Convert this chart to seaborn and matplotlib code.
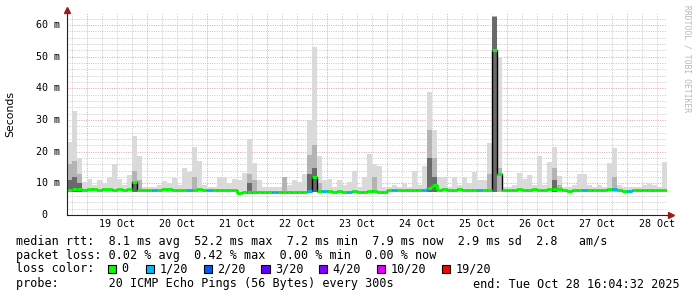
import matplotlib
matplotlib.use("Agg")
import numpy as np
import pandas as pd
import seaborn as sns
import matplotlib.pyplot as plt
import matplotlib.transforms as mtransforms
from matplotlib.patches import Rectangle

# ---------------- data ----------------
start = pd.Timestamp("2025-10-18 16:04:32")
end = pd.Timestamp("2025-10-28 16:04:32")
bin_hours = 2

median_ms = [
    8.0, 8.1, 8.1, 8.0, 8.1, 8.1, 8.0, 8.1, 8.1, 8.0, 8.1, 8.0, 8.1,
    10.3,
    7.9, 8.0, 8.0, 7.9, 8.0, 8.1, 8.1, 8.0, 8.0, 8.0, 7.9, 8.0, 8.1, 8.0, 7.9, 8.0, 8.0, 7.9, 8.0, 7.9,
    7.1,
    7.3, 7.3, 7.2, 7.3, 7.3, 7.3, 7.2, 7.3, 7.3, 7.2, 7.3, 7.3, 7.3,
    7.6, 11.9,
    7.6, 7.5, 7.5, 7.4, 7.5, 7.4, 7.4, 7.5, 7.4,
    7.4, 7.5, 7.5, 7.4, 7.2,
    7.8, 7.9, 8.0, 7.9, 8.0, 8.0, 7.9, 8.0,
    8.6, 9.5,
    8.0, 8.1, 8.0, 8.0, 8.1, 8.0, 8.0, 8.0, 7.9, 8.0, 8.0,
    52.2, 13.0,
    8.0, 8.0, 8.0, 8.1, 8.0, 8.0, 8.1, 8.0, 8.0, 8.1,
    8.3, 8.3, 8.0, 7.6,
    7.9, 8.0, 7.9, 8.0, 8.0, 8.0, 8.0, 8.2, 8.3, 8.0,
    7.7, 7.7, 7.8, 7.8, 7.8, 7.8, 7.8, 7.8, 7.9,
]

smoke_max_ms = [
    23, 33, 18, 10.5, 11.5, 9.5, 11, 10, 12, 16,
    11.5, 9.5, 12.7, 25, 18.5, 9, 9, 9, 9.5, 10.6,
    10, 11.6, 9.5, 15, 13.5, 21.5, 17, 9.5, 9, 9,
    12, 12, 10, 11.3, 11, 13.4, 24, 16.4, 11, 9,
    9, 9, 9, 12, 9.5, 11, 10.5, 13, 30, 53,
    18.5, 11, 11.3, 9, 11, 9.5, 10.5, 14, 9, 12,
    19.3, 16, 15.5, 9, 9, 9.5, 9, 10, 9, 14,
    9.5, 15.5, 39, 27, 12, 12, 9, 12, 9.5, 12,
    10, 13.5, 11, 11, 22.7, 63, 50, 9, 9, 9.5,
    13.2, 11.4, 12.6, 9.5, 18.6, 9.5, 16.8, 21.6, 12.3, 9,
    9, 9.5, 12.8, 12.8, 9.5, 9, 9.5, 9, 16.5, 21.2,
    9.5, 9, 9, 9, 9, 9.5, 10, 9.5, 9, 16.8,
]

# darker smoke levels (0 = none)
smoke_mid_ms = [0.0] * 120
for i, v in {0: 16, 1: 17, 2: 13, 13: 14, 14: 11, 25: 12, 36: 13, 37: 11, 43: 12,
             48: 19, 49: 22, 50: 10, 61: 12, 72: 27, 73: 18, 84: 13, 85: 63,
             86: 15, 97: 15, 98: 9.5, 109: 12}.items():
    smoke_mid_ms[i] = v
smoke_dark_ms = [0.0] * 120
for i, v in {0: 11, 1: 12, 2: 10, 13: 10.5, 36: 10, 48: 13, 49: 15, 72: 18,
             73: 12, 85: 62.5, 97: 11}.items():
    smoke_dark_ms[i] = v

loss_bins = [17, 24, 28, 41, 48, 51, 56, 65, 71, 82, 103, 109, 112]  # 1/20 loss

loss_labels = ["0", "1/20", "2/20", "3/20", "4/20", "10/20", "19/20"]
loss_colors = ["#00ff00", "#00b8ff", "#0059ff", "#5e00ff", "#7e00ff", "#dd00ff", "#ff0000"]

day_labels = ["19 Oct", "20 Oct", "21 Oct", "22 Oct", "23 Oct",
              "24 Oct", "25 Oct", "26 Oct", "27 Oct", "28 Oct"]
y_ticks = [0, 10, 20, 30, 40, 50, 60]

stats_rows = [
    "median rtt:  8.1 ms avg  52.2 ms max  7.2 ms min  7.9 ms now  2.9 ms sd  2.8   am/s",
    "packet loss: 0.02 % avg  0.42 % max  0.00 % min  0.00 % now",
]
probe_text = "probe:       20 ICMP Echo Pings (56 Bytes) every 300s"
end_text = "end: Tue Oct 28 16:04:32 2025"

# ---------------- figure ----------------
W, H = 697, 297
sns.set_theme(style="white")
plt.rcParams["font.family"] = ["DejaVu Sans Mono", "DejaVu Sans"]

fig = plt.figure(figsize=(W / 100, H / 100), dpi=100, facecolor="white")
ymax = 63.9
ax_left, ax_right, ax_bottom_px = 67, 667, 215
ax_top_px = ax_bottom_px - ymax * (190 / 60)
ax = fig.add_axes([ax_left / W, 1 - ax_bottom_px / H, (ax_right - ax_left) / W,
                   (ax_bottom_px - ax_top_px) / H])
ax.set_facecolor("white")

n = len(median_ms)
times = pd.date_range(start, periods=n, freq=f"{bin_hours}h")
df = pd.DataFrame({"t": times, "median": np.array(median_ms) / 1000.0,
                   "max": np.array(smoke_max_ms) / 1000.0,
                   "mid": np.array(smoke_mid_ms) / 1000.0,
                   "dark": np.array(smoke_dark_ms) / 1000.0})
df["loss"] = 0
df.loc[loss_bins, "loss"] = 1
width = pd.Timedelta(hours=bin_hours)

ax.set_xlim(start, end)
ax.set_ylim(0, ymax / 1000.0)

# grid
minor_t = pd.date_range("2025-10-18 18:00", end, freq="6h")
major_t = pd.date_range("2025-10-19 00:00", end, freq="D")
dash = (0, (1.0, 1.4))
for t in minor_t:
    if t.hour != 0:
        ax.axvline(t, color="#c8c8c8", lw=0.7, ls=dash, zorder=0.5)
for t in major_t:
    ax.axvline(t, color="#e2a4a4", lw=0.7, ls=dash, zorder=0.6)
for v in np.arange(2, 64, 2):
    if v % 10:
        ax.axhline(v / 1000.0, color="#c8c8c8", lw=0.7, ls=dash, zorder=0.5)
for v in y_ticks[1:]:
    ax.axhline(v / 1000.0, color="#e2a4a4", lw=0.7, ls=dash, zorder=0.6)

# smoke (from just below the fastest ping up to the slowest)
bottom = np.minimum(df["median"], 0.0079) - 0.0006
ax.bar(df["t"], df["max"] - bottom, bottom=bottom, width=width, align="edge",
       color="#dadada", linewidth=0, zorder=1)
m = df["mid"] > 0
ax.bar(df["t"][m], (df["mid"] - bottom)[m], bottom=bottom[m], width=width, align="edge",
       color="#b4b4b4", linewidth=0, zorder=1.1)
d = df["dark"] > 0
ax.bar(df["t"][d], (df["dark"] - bottom)[d], bottom=bottom[d], width=width, align="edge",
       color="#6a6a6a", linewidth=0, zorder=1.2)

# median: thin black step line (shows big jumps), then loss-coloured segments
sns.lineplot(x=df["t"], y=df["median"], drawstyle="steps-post", color="black",
             lw=1.0, ax=ax, zorder=2)
jump = (df["median"].diff().abs() < 0.002).values[1:]
prev_loss = df["loss"].values[:-1]
ax.vlines(df["t"].iloc[1:][jump], df["median"].iloc[:-1].values[jump],
          df["median"].iloc[1:].values[jump],
          colors=[loss_colors[k] for k in prev_loss[jump]], lw=2.1, zorder=3)
ax.hlines(df["median"], df["t"], df["t"] + width,
          colors=[loss_colors[k] for k in df["loss"]], lw=2.1, zorder=3.1)

ax.set_xticks([])
ax.set_yticks([])
ax.set_xlabel("")
ax.set_ylabel("")
for s in ["top", "right"]:
    ax.spines[s].set_visible(False)
for s in ["left", "bottom"]:
    ax.spines[s].set_color("#222222")
    ax.spines[s].set_linewidth(0.8)
    ax.spines[s].set_zorder(4)

# arrows
ax.plot([0], [1 + 2.5 / (ax_bottom_px - ax_top_px)], marker="^", color="#9b1b1b",
        markersize=4.5, transform=ax.transAxes, clip_on=False, zorder=5)
ax.plot([1 + 4.0 / 600], [0], marker=">", color="#9b1b1b", markersize=4.5,
        transform=ax.transAxes, clip_on=False, zorder=5)
ax.plot([1, 1 + 4.0 / 600], [0, 0], color="#222222", lw=0.8,
        transform=ax.transAxes, clip_on=False, zorder=4)

# tick labels
tfont = dict(fontsize=7.2, family="DejaVu Sans Mono", color="black")
blend_x = mtransforms.blended_transform_factory(ax.transData, fig.transFigure)
for lab, t in zip(day_labels, major_t):
    ax.text(t + pd.Timedelta(hours=12), 1 - 224 / H, lab, transform=blend_x,
            ha="center", va="center", **tfont)
blend_y = mtransforms.blended_transform_factory(fig.transFigure, ax.transData)
for v in y_ticks:
    if v:
        ax.text(59.5 / W, v / 1000.0, f"{v} m", transform=blend_y, ha="right",
                va="center", **tfont)
    else:
        ax.text(47.5 / W, 0, "0", transform=blend_y, ha="right", va="center", **tfont)

fig.text(10 / W, 1 - 114 / H, "Seconds", rotation=90, ha="center", va="center",
         fontsize=7.8, family="DejaVu Sans", color="black")
fig.text(687 / W, 1 - 5 / H, "RRDTOOL / TOBI OETIKER", rotation=270, ha="center",
         va="top", fontsize=5.8, family="DejaVu Sans Mono", color="#b8b8b8")

# legend / stats
lfont = dict(fontsize=8.5, family="DejaVu Sans Mono", color="black", va="center")
row_y = [241, 255, 269, 284]
for txt, y in zip(stats_rows, row_y[:2]):
    fig.text(16 / W, 1 - y / H, txt, ha="left", **lfont)
fig.text(16 / W, 1 - row_y[2] / H, "loss color:", ha="left", **lfont)
box_x = [108, 145.8, 203.6, 261.3, 319, 377, 442]
for bx, lab, col in zip(box_x, loss_labels, loss_colors):
    fig.add_artist(Rectangle((bx / W, 1 - (row_y[2] + 4.3) / H), 8.2 / W, 8.6 / H,
                             transform=fig.transFigure, facecolor=col,
                             edgecolor="black", lw=0.8))
    fig.text((bx + 13.5) / W, 1 - row_y[2] / H, lab, ha="left", **lfont)
fig.text(16 / W, 1 - row_y[3] / H, probe_text, ha="left", **lfont)
fig.text(680 / W, 1 - row_y[3] / H, end_text, ha="right", **lfont)

fig.savefig("out.png", dpi=100, facecolor="white")
